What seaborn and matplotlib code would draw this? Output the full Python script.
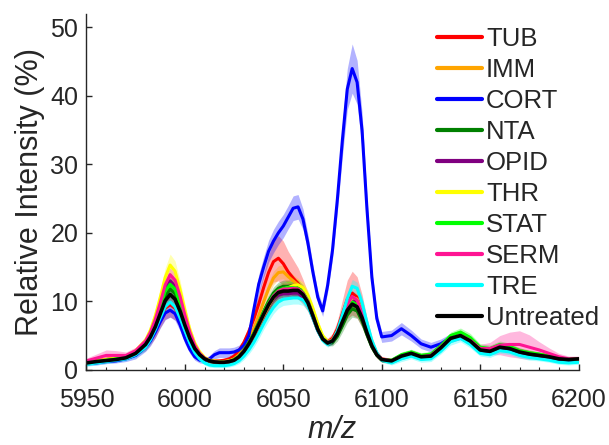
import numpy as np
import pandas as pd
import seaborn as sns
import matplotlib.pyplot as plt
from matplotlib.ticker import MultipleLocator

# m/z sampling positions (finer in the 5980-6100 peak region)
mz = np.concatenate([np.arange(5950, 5980, 5), np.arange(5980, 6100.1, 2.5), np.arange(6105, 6200.1, 5)])

#------------- mean spectra (relative intensity %)
tub = [1.1, 1.3, 1.5, 1.7, 1.9, 2.5,
       3.6, 4.6, 5.8, 7.5, 9.0, 9.5, 9.0, 7.6, 5.9, 4.3, 3.0, 2.2, 1.7, 1.4, 1.3, 1.3, 1.4, 1.6, 2.0, 2.8,
       4.0, 5.6, 7.4, 9.6, 12.0, 14.2, 15.8, 16.3, 15.5, 14.3, 13.4, 12.6, 11.4, 9.9, 7.9,
       5.9, 4.6, 4.1, 4.6, 6.0, 8.2, 10.3, 11.2, 10.6, 8.6, 6.0, 3.8, 2.3, 1.5,
       1.3, 2.0, 2.4, 1.9, 2.1, 3.3, 4.7, 5.1, 4.3, 3.0, 2.8, 3.4, 3.2, 2.7, 2.4, 2.2, 2.0, 1.7, 1.5, 1.6]
imm = [1.0, 1.2, 1.4, 1.6, 1.9, 2.6,
       3.9, 5.2, 7.0, 9.3, 11.6, 12.8, 12.0, 9.9, 7.4, 5.1, 3.4, 2.3, 1.6, 1.3, 1.2, 1.2, 1.2, 1.3, 1.6, 2.2,
       3.2, 4.5, 6.0, 7.9, 9.9, 11.8, 13.4, 14.2, 14.3, 13.6, 13.0, 12.4, 11.4, 9.9, 7.9,
       5.9, 4.5, 4.0, 4.4, 5.6, 7.4, 9.2, 10.2, 9.7, 8.0, 5.7, 3.7, 2.3, 1.5,
       1.3, 2.0, 2.5, 2.0, 2.1, 3.3, 4.7, 5.2, 4.3, 3.0, 2.8, 3.4, 3.2, 2.7, 2.4, 2.2, 2.0, 1.7, 1.5, 1.6]
cort = [0.9, 1.0, 1.2, 1.3, 1.6, 2.1,
        3.3, 4.2, 5.5, 7.0, 8.3, 8.7, 8.2, 6.6, 4.6, 3.0, 1.9, 1.4, 1.3, 1.6, 2.2, 2.5, 2.5, 2.5, 2.6, 2.9,
        3.6, 5.0, 8.8, 12.5, 15.0, 17.3, 18.8, 20.0, 21.0, 22.3, 23.6, 23.8, 22.0, 18.5, 14.3,
        10.6, 8.6, 12.3, 17.5, 25.0, 33.5, 41.0, 44.0, 42.0, 35.0, 23.5, 13.5, 7.5, 4.8,
        5.0, 6.0, 5.0, 3.8, 3.3, 3.8, 4.7, 5.0, 4.2, 3.0, 2.9, 3.3, 3.0, 2.6, 2.3, 2.1, 1.9, 1.6, 1.4, 1.5]
nta = [1.0, 1.2, 1.4, 1.6, 1.8, 2.5,
       3.8, 5.0, 6.6, 8.7, 10.8, 11.8, 11.1, 9.2, 6.9, 4.8, 3.2, 2.2, 1.6, 1.3, 1.2, 1.1, 1.1, 1.2, 1.4, 1.9,
       2.8, 3.9, 5.3, 6.9, 8.5, 10.0, 11.2, 11.9, 12.2, 12.2, 12.3, 12.2, 11.6, 10.3, 8.2,
       6.1, 4.6, 3.9, 4.0, 4.9, 6.4, 8.0, 8.9, 8.6, 7.1, 5.1, 3.3, 2.1, 1.4,
       1.3, 2.1, 2.5, 2.0, 2.2, 3.4, 4.8, 5.3, 4.5, 3.1, 2.9, 3.5, 3.3, 2.7, 2.4, 2.2, 2.0, 1.7, 1.5, 1.6]
opid = [1.0, 1.2, 1.4, 1.6, 1.8, 2.5,
        3.9, 5.2, 7.1, 9.4, 11.8, 13.0, 12.2, 10.1, 7.5, 5.2, 3.4, 2.3, 1.6, 1.3, 1.2, 1.1, 1.1, 1.2, 1.4, 1.9,
        2.7, 3.7, 4.9, 6.3, 7.8, 9.2, 10.3, 10.9, 11.1, 11.1, 11.2, 11.2, 10.6, 9.5, 7.6,
        5.7, 4.4, 3.9, 4.3, 5.5, 7.4, 9.3, 10.3, 9.9, 8.1, 5.7, 3.7, 2.3, 1.5,
        1.2, 1.9, 2.3, 1.8, 2.0, 3.2, 4.6, 5.1, 4.2, 2.9, 2.7, 3.3, 3.1, 2.6, 2.3, 2.1, 1.9, 1.6, 1.5, 1.5]
thr = [1.1, 1.3, 1.5, 1.7, 2.0, 2.8,
       4.3, 5.8, 7.9, 10.6, 13.5, 15.3, 14.4, 11.8, 8.7, 5.9, 3.9, 2.6, 1.8, 1.4, 1.3, 1.2, 1.2, 1.3, 1.5, 2.0,
       2.8, 3.8, 5.0, 6.4, 7.9, 9.3, 10.5, 11.3, 11.8, 12.0, 12.3, 12.4, 12.0, 10.9, 9.0,
       6.8, 5.0, 4.1, 4.3, 5.4, 7.3, 9.2, 10.6, 10.3, 8.5, 6.0, 3.9, 2.4, 1.6,
       1.3, 2.0, 2.4, 2.0, 2.2, 3.4, 4.8, 5.3, 4.4, 3.1, 2.9, 3.4, 3.2, 2.7, 2.4, 2.2, 2.0, 1.7, 1.5, 1.6]
stat = [1.0, 1.2, 1.4, 1.6, 1.9, 2.6,
        4.0, 5.3, 7.1, 9.3, 11.5, 12.5, 11.8, 9.7, 7.2, 5.0, 3.3, 2.2, 1.6, 1.3, 1.2, 1.1, 1.1, 1.2, 1.5, 2.0,
        2.9, 4.0, 5.3, 6.8, 8.4, 9.8, 10.9, 11.6, 11.9, 12.0, 12.0, 11.9, 11.3, 10.1, 8.1,
        6.0, 4.6, 4.0, 4.3, 5.4, 7.1, 8.9, 9.9, 9.5, 7.8, 5.5, 3.6, 2.3, 1.5,
        1.4, 2.2, 2.6, 2.1, 2.3, 3.5, 5.0, 5.5, 4.7, 3.3, 3.1, 3.7, 3.4, 2.8, 2.5, 2.3, 2.0, 1.7, 1.5, 1.6]
serm = [1.3, 1.7, 2.1, 2.1, 2.1, 2.8,
        4.2, 5.5, 7.4, 9.8, 12.4, 13.9, 13.1, 10.8, 8.0, 5.5, 3.6, 2.4, 1.7, 1.3, 1.2, 1.1, 1.1, 1.2, 1.4, 1.9,
        2.8, 3.8, 5.1, 6.6, 8.1, 9.6, 10.8, 11.5, 11.8, 11.8, 11.9, 11.8, 11.2, 10.0, 8.0,
        5.9, 4.5, 4.0, 4.3, 5.5, 7.5, 9.5, 10.7, 10.2, 8.4, 5.9, 3.8, 2.4, 1.6,
        1.3, 2.0, 2.4, 1.9, 2.1, 3.3, 4.6, 5.0, 4.3, 3.1, 3.1, 3.6, 3.7, 3.7, 3.3, 2.9, 2.4, 1.9, 1.6, 1.6]
tre = [0.8, 1.0, 1.2, 1.4, 1.6, 2.2,
       3.3, 4.4, 5.9, 7.6, 9.2, 9.9, 9.2, 7.6, 5.7, 3.9, 2.5, 1.6, 1.0, 0.7, 0.6, 0.6, 0.6, 0.7, 0.9, 1.3,
       2.0, 2.9, 4.0, 5.3, 6.7, 8.0, 9.1, 9.9, 10.3, 10.4, 10.5, 10.5, 10.2, 9.3, 7.6,
       5.7, 4.3, 3.7, 4.2, 5.7, 8.0, 10.4, 12.2, 11.9, 9.8, 6.9, 4.3, 2.5, 1.4,
       1.0, 1.6, 2.0, 1.5, 1.6, 2.7, 4.1, 4.6, 3.7, 2.4, 2.2, 2.8, 2.6, 2.1, 1.8, 1.6, 1.4, 1.1, 1.0, 1.1]
untreated = [1.0, 1.2, 1.35, 1.5, 1.75, 2.4,
             3.7, 4.8, 6.3, 8.2, 10.1, 11.0, 10.3, 8.6, 6.5, 4.6, 3.1, 2.2, 1.6, 1.3, 1.15, 1.1, 1.1, 1.2, 1.4, 1.9,
             2.7, 3.8, 5.1, 6.6, 8.1, 9.5, 10.6, 11.3, 11.5, 11.5, 11.6, 11.6, 11.0, 9.8, 7.9,
             5.9, 4.5, 3.9, 4.2, 5.3, 7.0, 8.7, 9.6, 9.2, 7.6, 5.4, 3.5, 2.2, 1.5,
             1.3, 2.0, 2.4, 1.9, 2.0, 3.2, 4.6, 5.0, 4.2, 2.9, 2.7, 3.3, 3.1, 2.6, 2.3, 2.1, 1.9, 1.6, 1.5, 1.6]

#------------- shaded band half widths (+/- around the mean)
tub_sd = [0.3, 0.4, 0.4, 0.4, 0.4, 0.5,
          0.8, 0.9, 1.1, 1.3, 1.6, 1.8, 1.7, 1.4, 1.1, 0.8, 0.6, 0.4, 0.3, 0.3, 0.3, 0.3, 0.3, 0.3, 0.4, 0.5,
          0.7, 0.9, 1.2, 1.6, 2.0, 2.5, 3.0, 3.3, 3.3, 3.0, 2.7, 2.3, 1.8, 1.4, 1.0,
          0.7, 0.5, 0.5, 0.7, 1.2, 2.0, 2.8, 3.2, 3.0, 2.4, 1.6, 1.0, 0.6, 0.4,
          0.4, 0.4, 0.4, 0.4, 0.4, 0.5, 0.6, 0.6, 0.5, 0.4, 0.4, 0.5, 0.5, 0.5, 0.4, 0.4, 0.4, 0.3, 0.3, 0.3]
imm_sd = [0.3, 0.3, 0.3, 0.3, 0.3, 0.4,
          0.6, 0.7, 0.8, 1.0, 1.1, 1.2, 1.1, 1.0, 0.8, 0.6, 0.4, 0.3, 0.3, 0.3, 0.3, 0.3, 0.3, 0.3, 0.3, 0.4,
          0.5, 0.6, 0.7, 0.8, 0.9, 1.0, 1.0, 1.0, 1.0, 1.0, 0.9, 0.9, 0.8, 0.7, 0.6,
          0.5, 0.4, 0.4, 0.5, 0.6, 0.7, 0.8, 0.9, 0.8, 0.7, 0.5, 0.4, 0.3, 0.3,
          0.3, 0.4, 0.4, 0.4, 0.4, 0.4, 0.5, 0.5, 0.5, 0.4, 0.4, 0.4, 0.4, 0.4, 0.4, 0.3, 0.3, 0.3, 0.3, 0.3]
cort_sd = [0.3, 0.3, 0.3, 0.3, 0.4, 0.5,
           0.6, 0.7, 0.8, 0.9, 1.0, 1.0, 1.0, 0.9, 0.8, 0.6, 0.5, 0.4, 0.4, 0.5, 0.6, 0.7, 0.7, 0.7, 0.7, 0.7,
           0.8, 1.0, 1.2, 1.4, 1.5, 1.6, 1.7, 1.7, 1.7, 1.7, 1.8, 1.8, 1.5, 1.3, 1.1,
           0.9, 0.8, 1.0, 1.3, 1.8, 2.4, 3.0, 3.6, 3.2, 2.6, 1.8, 1.2, 0.9, 0.8,
           0.8, 0.9, 0.8, 0.7, 0.7, 0.7, 0.6, 0.6, 0.5, 0.5, 0.5, 0.5, 0.5, 0.5, 0.4, 0.4, 0.4, 0.4, 0.4, 0.4]
nta_sd = [0.3, 0.3, 0.3, 0.3, 0.3, 0.4,
          0.5, 0.6, 0.7, 0.8, 0.9, 1.0, 0.9, 0.8, 0.7, 0.5, 0.4, 0.3, 0.3, 0.3, 0.3, 0.3, 0.3, 0.3, 0.3, 0.4,
          0.5, 0.6, 0.7, 0.8, 0.8, 0.9, 0.9, 0.9, 0.9, 0.9, 0.9, 0.9, 0.8, 0.7, 0.6,
          0.5, 0.4, 0.4, 0.5, 0.7, 0.9, 1.1, 1.2, 1.1, 0.9, 0.7, 0.5, 0.3, 0.3,
          0.3, 0.4, 0.4, 0.4, 0.4, 0.4, 0.5, 0.5, 0.5, 0.4, 0.4, 0.4, 0.4, 0.4, 0.4, 0.3, 0.3, 0.3, 0.3, 0.3]
opid_sd = [0.3, 0.3, 0.3, 0.3, 0.3, 0.4,
           0.5, 0.6, 0.7, 0.8, 0.9, 0.9, 0.9, 0.8, 0.7, 0.5, 0.4, 0.3, 0.3, 0.3, 0.3, 0.3, 0.3, 0.3, 0.3, 0.4,
           0.5, 0.6, 0.7, 0.7, 0.8, 0.8, 0.8, 0.8, 0.8, 0.8, 0.8, 0.8, 0.7, 0.6, 0.5,
           0.5, 0.4, 0.4, 0.5, 0.6, 0.7, 0.8, 0.8, 0.8, 0.7, 0.5, 0.4, 0.3, 0.3,
           0.3, 0.4, 0.4, 0.4, 0.4, 0.4, 0.5, 0.5, 0.5, 0.4, 0.4, 0.4, 0.4, 0.4, 0.4, 0.3, 0.3, 0.3, 0.3, 0.3]
thr_sd = [0.3, 0.3, 0.3, 0.3, 0.3, 0.4,
          0.6, 0.8, 1.0, 1.2, 1.4, 1.6, 1.5, 1.3, 1.0, 0.7, 0.5, 0.4, 0.3, 0.3, 0.3, 0.3, 0.3, 0.3, 0.3, 0.4,
          0.5, 0.6, 0.7, 0.8, 0.8, 0.9, 0.9, 0.9, 0.9, 0.9, 0.9, 0.9, 0.8, 0.7, 0.6,
          0.5, 0.4, 0.4, 0.5, 0.6, 0.7, 0.8, 0.9, 0.8, 0.7, 0.5, 0.4, 0.3, 0.3,
          0.3, 0.4, 0.4, 0.4, 0.4, 0.4, 0.5, 0.5, 0.5, 0.4, 0.4, 0.4, 0.4, 0.4, 0.4, 0.3, 0.3, 0.3, 0.3, 0.3]
stat_sd = [0.3, 0.3, 0.3, 0.3, 0.3, 0.4,
           0.5, 0.6, 0.7, 0.8, 0.9, 0.9, 0.9, 0.8, 0.7, 0.5, 0.4, 0.3, 0.3, 0.3, 0.3, 0.3, 0.3, 0.3, 0.3, 0.4,
           0.5, 0.6, 0.7, 0.8, 0.8, 0.9, 0.9, 0.9, 0.9, 0.9, 0.9, 0.9, 0.8, 0.7, 0.6,
           0.5, 0.4, 0.4, 0.5, 0.6, 0.7, 0.8, 0.9, 0.8, 0.7, 0.5, 0.4, 0.3, 0.3,
           0.3, 0.4, 0.4, 0.4, 0.4, 0.4, 0.5, 0.6, 0.6, 0.5, 0.5, 0.5, 0.5, 0.4, 0.4, 0.3, 0.3, 0.3, 0.3, 0.3]
serm_sd = [0.4, 0.6, 0.8, 0.7, 0.5, 0.5,
           0.6, 0.7, 0.8, 0.9, 1.0, 1.0, 1.0, 0.9, 0.7, 0.5, 0.4, 0.3, 0.3, 0.3, 0.3, 0.3, 0.3, 0.3, 0.3, 0.4,
           0.5, 0.6, 0.7, 0.8, 0.8, 0.9, 0.9, 0.9, 0.9, 0.9, 0.9, 0.9, 0.8, 0.7, 0.6,
           0.5, 0.4, 0.4, 0.5, 0.6, 0.7, 0.8, 0.9, 0.8, 0.7, 0.5, 0.4, 0.3, 0.3,
           0.4, 0.4, 0.4, 0.4, 0.4, 0.5, 0.6, 0.6, 0.5, 0.6, 0.9, 1.4, 1.8, 2.0, 1.8, 1.2, 0.8, 0.5, 0.4, 0.4]
tre_sd = [0.3, 0.3, 0.3, 0.3, 0.3, 0.4,
          0.5, 0.6, 0.7, 0.8, 0.8, 0.9, 0.8, 0.7, 0.6, 0.5, 0.4, 0.3, 0.3, 0.3, 0.3, 0.3, 0.3, 0.3, 0.3, 0.4,
          0.5, 0.6, 0.7, 0.8, 0.8, 0.9, 0.9, 0.9, 0.9, 0.9, 0.9, 0.9, 0.8, 0.7, 0.6,
          0.5, 0.4, 0.4, 0.5, 0.6, 0.8, 0.9, 1.0, 0.9, 0.8, 0.6, 0.4, 0.3, 0.3,
          0.3, 0.4, 0.4, 0.4, 0.4, 0.4, 0.5, 0.5, 0.5, 0.4, 0.4, 0.4, 0.4, 0.4, 0.4, 0.3, 0.3, 0.3, 0.3, 0.3]
untreated_sd = [0.3, 0.3, 0.3, 0.3, 0.3, 0.4,
                0.5, 0.6, 0.7, 0.8, 0.9, 0.9, 0.9, 0.8, 0.7, 0.5, 0.4, 0.3, 0.3, 0.3, 0.3, 0.3, 0.3, 0.3, 0.3, 0.4,
                0.5, 0.6, 0.7, 0.8, 0.8, 0.9, 0.9, 0.9, 0.9, 0.9, 0.9, 0.9, 0.8, 0.7, 0.6,
                0.5, 0.4, 0.4, 0.5, 0.6, 0.7, 0.8, 0.9, 0.8, 0.7, 0.5, 0.4, 0.3, 0.3,
                0.3, 0.4, 0.4, 0.4, 0.4, 0.4, 0.5, 0.5, 0.5, 0.4, 0.4, 0.4, 0.4, 0.4, 0.4, 0.3, 0.3, 0.3, 0.3, 0.3]

groups = ['TUB', 'IMM', 'CORT', 'NTA', 'OPID', 'THR', 'STAT', 'SERM', 'TRE', 'Untreated']
means = [tub, imm, cort, nta, opid, thr, stat, serm, tre, untreated]
sds = [tub_sd, imm_sd, cort_sd, nta_sd, opid_sd, thr_sd, stat_sd, serm_sd, tre_sd, untreated_sd]
colors = ['#ff0000', '#ffa500', '#0000ff', '#008000', '#800080', '#ffff00', '#00ff00', '#ff1493', '#00ffff', '#000000']

for m, s in zip(means, sds):
    assert len(m) == len(mz) and len(s) == len(mz), (len(m), len(s))

#------------- plot
sns.set_style('ticks')
plt.rcParams['font.family'] = ['Liberation Sans', 'DejaVu Sans']
fig = plt.figure(figsize=(6.09, 4.45), dpi=100)
ax = fig.add_axes([0.142, 0.169, 0.808, 0.800])

for name, m, s, c in zip(groups, means, sds, colors):
    m = np.array(m); s = np.array(s)
    ax.fill_between(mz, m - s, m + s, color=c, alpha=0.3, lw=0)
    df = pd.DataFrame({'mz': mz, 'I': m})
    sns.lineplot(data=df, x='mz', y='I', color=c, lw=2.6 if name == 'Untreated' else 2.2, label=name, ax=ax)

ax.set_xlim(5950, 6200)
ax.set_ylim(0, 52)
ax.set_xticks([5950, 6000, 6050, 6100, 6150, 6200])
ax.set_yticks([0, 10, 20, 30, 40, 50])
ax.xaxis.set_minor_locator(MultipleLocator(10))
ax.tick_params(which='both', direction='in', labelsize=18, colors='#262626')
ax.tick_params(which='major', length=4, width=1)
ax.tick_params(which='minor', length=2.5, width=0.8)
ax.tick_params(axis='x', pad=13)
ax.tick_params(axis='y', pad=6)
sns.despine(ax=ax)
for sp in ['left', 'bottom']:
    ax.spines[sp].set_color('#262626')
    ax.spines[sp].set_linewidth(1)

ax.set_xlabel('m/z', fontsize=22, style='italic', color='#262626', labelpad=2)
ax.set_ylabel('Relative Intensity (%)', fontsize=22, color='#262626', labelpad=4)

leg = ax.legend(loc='upper left', bbox_to_anchor=(0.712, 0.962), frameon=False, fontsize=18.5,
                handlelength=1.75, handletextpad=0.16, labelspacing=0.27, borderaxespad=0, borderpad=0)
for line in leg.get_lines():
    line.set_linewidth(3)

fig.savefig('out.png', dpi=100)
